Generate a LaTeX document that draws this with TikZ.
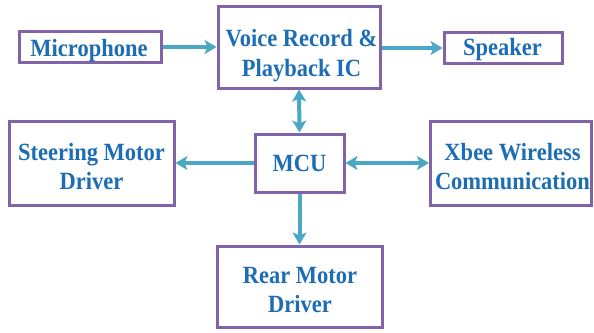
\documentclass[tikz,border=0pt]{standalone}
\usepackage{fontspec}
\usepackage{graphicx}
\setmainfont{Liberation Serif}
\usetikzlibrary{arrows.meta}
\definecolor{boxline}{HTML}{8163A9}
\definecolor{boxtext}{HTML}{1C6DB4}
\definecolor{linkcol}{HTML}{4AA8C4}
% centred lines of block text, set a little taller than wide
\newcommand\blocktext[1]{\scalebox{1}[1.1]{\begin{tabular}[t]{@{}c@{}}#1\end{tabular}}}
\begin{document}
\begin{tikzpicture}[x=1pt,y=-1pt,
  tip/.tip={Stealth[length=12pt,width=14pt,inset=3pt]},
  blockbox/.style={draw=boxline,line width=3pt,fill=white,inner sep=0pt},
  blocklabel/.style={text=boxtext,font=\fontsize{22.5}{26.8}\selectfont\bfseries,
    inner sep=0pt,anchor=base},
  link/.style={draw=linkcol,line width=4pt,-tip},
  duallink/.style={draw=linkcol,line width=4pt,tip-tip}]
\useasboundingbox (0,0) rectangle (594,332);
% blocks
\node[blockbox,minimum width=142pt,minimum height=31pt] (mic) at (90,47) {};
\node[blockbox,minimum width=162pt,minimum height=82pt] (voice) at (299,47) {};
\node[blockbox,minimum width=118pt,minimum height=31pt] (spk) at (503,48) {};
\node[blockbox,minimum width=165pt,minimum height=84pt] (steer) at (91.5,163) {};
\node[blockbox,minimum width=89pt,minimum height=58pt] (mcu) at (299.5,163) {};
\node[blockbox,minimum width=161pt,minimum height=84pt] (xbee) at (511,163) {};
\node[blockbox,minimum width=165pt,minimum height=81pt] (rear) at (299.5,286.5) {};
% block captions, placed by the baseline of their first line
\node[blocklabel] (micT) at (89,56.7) {\blocktext{Microphone}};
\node[blocklabel] (voiceT) at (301.5,46.7) {\blocktext{Voice Record \&\\Playback IC}};
\node[blocklabel] (spkT) at (502.5,55) {\blocktext{Speaker}};
\node[blocklabel] (steerT) at (91.5,160) {\blocktext{Steering Motor\\Driver}};
\node[blocklabel] (mcuT) at (299.5,171.5) {\blocktext{MCU}};
\node[blocklabel] (xbeeT) at (512.5,160) {\blocktext{Xbee Wireless\\Communication}};
\node[blocklabel] (rearT) at (300,283) {\blocktext{Rear Motor\\Driver}};
% connectors
\draw[link] (mic.east) -- (voice.west |- mic.east);
\draw[link] (voice.east |- spk.west) -- (spk.west);
\draw[duallink] (voice.south) -- (mcu.north);
\draw[link] (mcu.west) -- (steer.east);
\draw[duallink] (mcu.east) -- (xbee.west);
\draw[link] (mcu.south) -- (rear.north);
\end{tikzpicture}
\end{document}
